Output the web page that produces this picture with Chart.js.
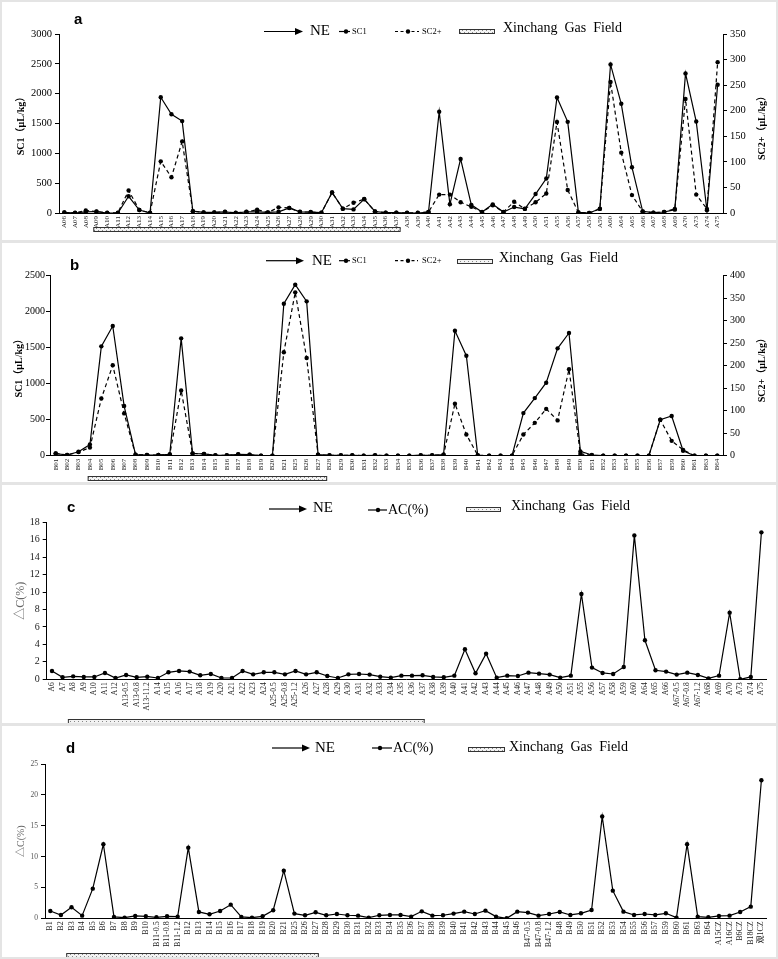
<!DOCTYPE html>
<html>
<head>
<meta charset="utf-8">
<script src="https://cdn.jsdelivr.net/npm/chart.js@4.4.1/dist/chart.umd.min.js"></script>
<style>
  body { margin: 0; width: 778px; height: 959px; position: relative; overflow: hidden; background: #fff; }
  canvas { position: absolute; left: 0; }
  .frame { position: absolute; left: 0; width: 778px; box-sizing: border-box; border: 2px solid #e4e4e4; pointer-events: none; }
</style>
</head>
<body>
<canvas id="chartA" style="top:0px"></canvas>
<canvas id="chartB" style="top:241px"></canvas>
<canvas id="chartC" style="top:483px"></canvas>
<canvas id="chartD" style="top:724px"></canvas>
<div class="frame" style="top:0px;height:242px"></div>
<div class="frame" style="top:241px;height:243px"></div>
<div class="frame" style="top:483px;height:242px"></div>
<div class="frame" style="top:724px;height:235px"></div>
<script>
// --- data: panel a (SC1 on left axis, SC2+ on right axis, µL/kg) ---
const labelsA = ['A06','A07','A08','A09','A10','A11','A12','A13','A14','A15','A16','A17','A18','A19','A20','A21','A22','A23','A24','A25','A26','A27','A28','A29','A30','A31','A32','A33','A34','A35','A36','A37','A38','A39','A40','A41','A42','A43','A44','A45','A46','A47','A48','A49','A50','A51','A55','A56','A57','A58','A59','A60','A64','A65','A66','A67','A68','A69','A70','A73','A74','A75'];
const sc1A = [10,0,20,25,0,0,280,50,0,1940,1655,1540,30,10,10,20,0,20,20,10,20,84,20,15,5,345,72,60,234,25,5,5,0,0,17,1697,146,906,137,15,145,15,100,70,318,577,1937,1528,10,0,72,2490,1830,766,28,5,17,56,2340,1533,45,2150];
const sc2A = [1,0.5,5,2.5,0.5,0.5,44,6,0.5,101,70,140,3.5,1,1,2,0.5,2,6.5,1,11,10,2,2,0.5,40,8.5,20,27,3,0.5,0.5,0.5,0.5,2,36,36,21,12,2,15,2,22,8,21,38,178,45,1,0,8,256,118,35,3,0.5,2,8,223,36,8,295];
const gasFieldA = ['A09', 'A37'];

// --- data: panel b ---
const labelsB = ['B01','B02','B03','B04','B05','B06','B07','B08','B09','B10','B11','B12','B13','B14','B15','B16','B17','B18','B19','B20','B21','B25','B26','B27','B28','B29','B30','B31','B32','B33','B34','B35','B36','B37','B38','B39','B40','B41','B42','B43','B44','B45','B46','B47','B48','B49','B50','B51','B52','B53','B54','B55','B56','B57','B59','B60','B61','B63','B64'];
const sc1B = [30,10,55,155,1519,1801,690,15,10,10,20,1630,30,25,5,5,20,15,0,0,2111,2375,2144,15,5,5,5,0,5,0,0,0,5,5,14,1736,1389,5,0,0,0,592,800,1014,1491,1704,60,10,0,0,0,0,0,500,551,69,0,0,0];
const sc2B = [5,1.5,8,18,127,201,94,2,1.5,1.5,2.5,145,5,4,1,1,3,2,0,0,230,363,217,2,1,1,1,0,1,0,0,0,1,1,2,115.6,47,1,0,0,0,47,73,104,78.5,192,4,1,0,0,0,0,0,80,33,13,0,0,0];
const gasFieldB = ['B04', 'B27'];

// --- data: panel c (ΔC %) ---
const labelsC = ['A6','A7','A8','A9','A10','A11','A12','A13-0.5','A13-0.8','A13-11.2','A14','A15','A16','A17','A18','A19','A20','A21','A22','A23','A24','A25-0.5','A25-0.8','A25-1.2','A26','A27','A28','A29','A30','A31','A32','A33','A34','A35','A36','A37','A38','A39','A40','A41','A42','A43','A44','A45','A46','A47','A48','A49','A50','A51','A55','A56','A57','A58','A59','A60','A64','A65','A66','A67-0.5','A67-0.8','A67-1.2','A68','A69','A70','A73','A74','A75'];
const acC = [0.96,0.23,0.34,0.27,0.27,0.73,0.15,0.5,0.23,0.3,0.15,0.8,0.96,0.88,0.46,0.61,0.15,0.15,0.96,0.57,0.8,0.8,0.57,0.96,0.57,0.8,0.38,0.15,0.57,0.61,0.54,0.3,0.19,0.42,0.42,0.46,0.27,0.23,0.42,3.44,0.69,2.94,0.19,0.42,0.38,0.76,0.65,0.54,0.19,0.42,9.78,1.34,0.73,0.61,1.41,16.5,4.47,1.03,0.88,0.54,0.76,0.5,0.11,0.42,7.64,0,0.27,16.85];
const gasFieldC = ['A8', 'A37'];

// --- data: panel d ---
const labelsD = ['B1','B2','B3','B4','B5','B6','B7','B8','B9','B10','B11-0.5','B11-0.8','B11-1.2','B12','B13','B14','B15','B16','B17','B18','B19','B20','B21','B25','B26','B27','B28','B29','B30','B31','B32','B33','B34','B35','B36','B37','B38','B39','B40','B41','B42','B43','B44','B45','B46','B47-0.5','B47-0.8','B47-1.2','B48','B49','B50','B51','B52','B53','B54','B55','B56','B57','B59','B60','B61','B63','B64','A15CZ','A16CZ','B6CZ','B18CZ','观1CZ'];
const acD = [1.19,0.54,1.78,0.43,4.8,12.0,0.22,0.11,0.38,0.32,0.16,0.32,0.27,11.45,1.03,0.65,1.19,2.21,0.22,0.11,0.32,1.3,7.72,0.76,0.49,0.97,0.49,0.7,0.49,0.43,0.11,0.49,0.54,0.54,0.27,1.13,0.43,0.49,0.76,1.08,0.7,1.24,0.27,0,1.08,0.92,0.43,0.7,1.03,0.54,0.81,1.35,16.5,4.48,1.08,0.54,0.7,0.54,0.81,0.11,12.0,0.27,0.16,0.38,0.43,1.03,1.89,22.36];
const gasFieldD = ['B3', 'B27'];

const serif = '"Liberation Serif", "Times New Roman", "Noto Sans CJK SC", serif';
const sans = '"Liberation Sans", Arial, sans-serif';

function hatchFill(ctx, x, y, w, h) {
    const c = document.createElement('canvas');
    c.width = 4; c.height = 4;
    const g = c.getContext('2d');
    g.fillStyle = '#f3f3f3'; g.fillRect(0, 0, 4, 4);
    g.fillStyle = '#888'; g.fillRect(0, 0, 1, 1); g.fillRect(2, 2, 1, 1);
    ctx.fillStyle = ctx.createPattern(c, 'repeat');
    ctx.fillRect(x, y, w, h);
    ctx.strokeStyle = '#333';
    ctx.lineWidth = 1;
    ctx.strokeRect(x + 0.5, y + 0.5, w - 1, h - 1);
}

// draws panel letter, legend, right axis title and the gas field bar
const decor = {
    id: 'decor',
    afterDraw(chart) {
        const p = chart.options.plugins.decor;
        const ctx = chart.ctx;
        ctx.save();
        ctx.fillStyle = '#000';
        ctx.font = 'bold 15px ' + sans;
        ctx.textBaseline = 'alphabetic';
        ctx.fillText(p.letter[0], p.letter[1], p.letter[2]);

        // NE arrow
        const [ax1, ax2, ay] = p.arrow;
        ctx.strokeStyle = '#000'; ctx.lineWidth = 1.2;
        ctx.beginPath(); ctx.moveTo(ax1, ay); ctx.lineTo(ax2 - 6, ay); ctx.stroke();
        ctx.beginPath(); ctx.moveTo(ax2, ay); ctx.lineTo(ax2 - 8, ay - 3.5); ctx.lineTo(ax2 - 8, ay + 3.5); ctx.closePath(); ctx.fill();
        ctx.textBaseline = 'middle';
        ctx.font = '15px ' + serif;
        ctx.fillText('NE', p.ne[0], p.ne[1]);

        p.items.forEach(it => {
            ctx.setLineDash(it.dash ? [3, 2.5] : []);
            ctx.beginPath(); ctx.moveTo(it.x1, it.y); ctx.lineTo(it.x2, it.y); ctx.stroke();
            ctx.setLineDash([]);
            ctx.beginPath(); ctx.arc(it.dot, it.y, 2.2, 0, Math.PI * 2); ctx.fill();
            ctx.font = it.size + 'px ' + serif;
            ctx.fillText(it.text, it.tx, it.y);
        });

        hatchFill(ctx, p.box[0], p.box[1], p.box[2], p.box[3]);
        ctx.fillStyle = '#000';
        ctx.font = '14px ' + serif;
        ctx.fillText('Xinchang  Gas  Field', p.gas[0], p.gas[1]);

        if (p.rightTitle) {
            const area = chart.chartArea;
            ctx.save();
            ctx.translate(p.rightTitle.x, (area.top + area.bottom) / 2 + 2);
            ctx.rotate(-Math.PI / 2);
            ctx.textAlign = 'center';
            ctx.font = 'bold 10px ' + serif;
            ctx.fillText(p.rightTitle.text, 0, 0);
            ctx.restore();
        }

        // Xinchang gas field range under the axis labels
        const xs = chart.scales.x;
        const labels = chart.data.labels;
        const x0 = xs.getPixelForValue(labels.indexOf(p.field[0]) + p.fieldPad[0]);
        const x1 = xs.getPixelForValue(labels.indexOf(p.field[1]) + p.fieldPad[1]);
        hatchFill(ctx, x0, p.fieldY, x1 - x0, 5);
        ctx.restore();
    }
};

function renderPanel(canvasId, cfg) {
    const canvas = document.getElementById(canvasId);
    const W = 778, H = cfg.h;
    canvas.width = W; canvas.height = H;
    canvas.style.width = W + 'px'; canvas.style.height = H + 'px';
    const a = cfg.area;
    const plain = v => String(v);

    const scales = {
        x: {
            type: 'category', offset: true,
            grid: { display: true, drawOnChartArea: false, drawTicks: false },
            border: { display: true, color: '#000', width: 1 },
            ticks: { autoSkip: false, minRotation: 90, maxRotation: 90, padding: 3, color: '#222', font: { family: serif, size: cfg.xFont } },
            afterFit: s => { s.height = H - a.b; }
        },
        y: {
            position: 'left', min: 0, max: cfg.yMax,
            ticks: { stepSize: cfg.yStep, padding: cfg.yPad, color: cfg.yColor, font: { family: serif, size: cfg.yFont }, callback: plain },
            grid: { drawOnChartArea: false, drawTicks: true, tickLength: 4, color: '#000' },
            border: { display: true, color: '#000', width: 1 },
            title: { display: true, text: cfg.yTitle, color: cfg.titleColor, font: { family: serif, size: cfg.titleSize, weight: cfg.titleWeight }, padding: { top: cfg.titlePad, bottom: 0 } },
            afterFit: s => { s.width = a.l; }
        }
    };
    if (cfg.y1Max) {
        scales.y1 = {
            position: 'right', min: 0, max: cfg.y1Max,
            ticks: { stepSize: cfg.y1Step, padding: 3, color: '#000', font: { family: serif, size: cfg.yFont }, callback: plain },
            grid: { drawOnChartArea: false, drawTicks: true, tickLength: 4, color: '#000' },
            border: { display: true, color: '#000', width: 1 },
            afterFit: s => { s.width = W - a.r; }
        };
    }

    const datasets = cfg.series.map(sr => ({
        label: sr.label,
        data: sr.data,
        yAxisID: sr.axis,
        borderColor: '#000',
        borderWidth: 1.2,
        borderDash: sr.dash || [],
        pointRadius: 2.2,
        pointBackgroundColor: '#000',
        pointBorderWidth: 0,
        tension: 0,
        fill: false
    }));

    new Chart(canvas.getContext('2d'), {
        type: 'line',
        data: { labels: cfg.labels, datasets: datasets },
        options: {
            responsive: false,
            animation: false,
            layout: { padding: { top: a.t, left: 0, bottom: 0, right: cfg.y1Max ? 0 : W - a.r } },
            plugins: { legend: { display: false }, tooltip: { enabled: false }, decor: cfg.decor },
            scales: scales
        },
        plugins: [decor]
    });
}

renderPanel('chartA', {
    h: 241, area: { l: 59, r: 723, t: 34, b: 213 },
    labels: labelsA,
    series: [{ label: 'SC1', data: sc1A, axis: 'y' }, { label: 'SC2+', data: sc2A, axis: 'y1', dash: [4, 3] }],
    yMax: 3000, yStep: 500, y1Max: 350, y1Step: 50,
    xFont: 7, yFont: 10.5, yColor: '#000', yPad: 3,
    yTitle: 'SC1（μL/kg）', titleColor: '#000', titleSize: 10, titleWeight: 'bold', titlePad: 15,
    decor: {
        letter: ['a', 74, 24], arrow: [264, 303, 31.5], ne: [310, 31.5],
        items: [
            { dash: false, x1: 339, x2: 350, dot: 346, y: 31.5, text: 'SC1', tx: 352, size: 8.5 },
            { dash: true, x1: 395, x2: 419, dot: 408, y: 31.5, text: 'SC2+', tx: 422, size: 8.5 }
        ],
        box: [459, 29, 36, 5], gas: [503, 28],
        rightTitle: { x: 762, text: 'SC2+（μL/kg）' },
        field: gasFieldA, fieldPad: [-0.3, 0.4], fieldY: 227
    }
});

renderPanel('chartB', {
    h: 242, area: { l: 50, r: 723, t: 34.7, b: 214.7 },
    labels: labelsB,
    series: [{ label: 'SC1', data: sc1B, axis: 'y' }, { label: 'SC2+', data: sc2B, axis: 'y1', dash: [4, 3] }],
    yMax: 2500, yStep: 500, y1Max: 400, y1Step: 50,
    xFont: 7, yFont: 10, yColor: '#000', yPad: 1,
    yTitle: 'SC1（μL/kg）', titleColor: '#000', titleSize: 10, titleWeight: 'bold', titlePad: 13,
    decor: {
        letter: ['b', 70, 29], arrow: [266, 304, 19.7], ne: [312, 19.7],
        items: [
            { dash: false, x1: 339, x2: 350, dot: 346, y: 19.7, text: 'SC1', tx: 352, size: 8.5 },
            { dash: true, x1: 395, x2: 418, dot: 408, y: 19.7, text: 'SC2+', tx: 422, size: 8.5 }
        ],
        box: [457, 18, 36, 5], gas: [499, 17],
        rightTitle: { x: 762, text: 'SC2+（μL/kg）' },
        field: gasFieldB, fieldPad: [-0.2, 0.8], fieldY: 235
    }
});

renderPanel('chartC', {
    h: 242, area: { l: 46.7, r: 766.7, t: 39.3, b: 196.3 },
    labels: labelsC,
    series: [{ label: 'AC(%)', data: acC, axis: 'y' }],
    yMax: 18, yStep: 2,
    xFont: 7.5, yFont: 10, yColor: '#222', yPad: 3,
    yTitle: '△C(%)', titleColor: '#666', titleSize: 12, titleWeight: 'normal', titlePad: 14,
    decor: {
        letter: ['c', 67, 29], arrow: [269, 307, 26], ne: [313, 25.5],
        items: [
            { dash: false, x1: 368, x2: 387, dot: 378, y: 27, text: 'AC(%)', tx: 388, size: 14 }
        ],
        box: [466, 24, 35, 5], gas: [511, 23],
        field: gasFieldC, fieldPad: [-0.5, 0.2], fieldY: 236
    }
});

renderPanel('chartD', {
    h: 235, area: { l: 45, r: 766.7, t: 40, b: 194.3 },
    labels: labelsD,
    series: [{ label: 'AC(%)', data: acD, axis: 'y' }],
    yMax: 25, yStep: 5,
    xFont: 8, yFont: 7.5, yColor: '#555', yPad: 3,
    yTitle: '△C(%)', titleColor: '#666', titleSize: 10, titleWeight: 'normal', titlePad: 15,
    decor: {
        letter: ['d', 66, 29], arrow: [272, 310, 24], ne: [315, 24],
        items: [
            { dash: false, x1: 372, x2: 392, dot: 380, y: 24, text: 'AC(%)', tx: 393, size: 14 }
        ],
        box: [468, 23, 37, 5], gas: [509, 23.5],
        field: gasFieldD, fieldPad: [-0.5, 0.3], fieldY: 229
    }
});
</script>
</body>
</html>
